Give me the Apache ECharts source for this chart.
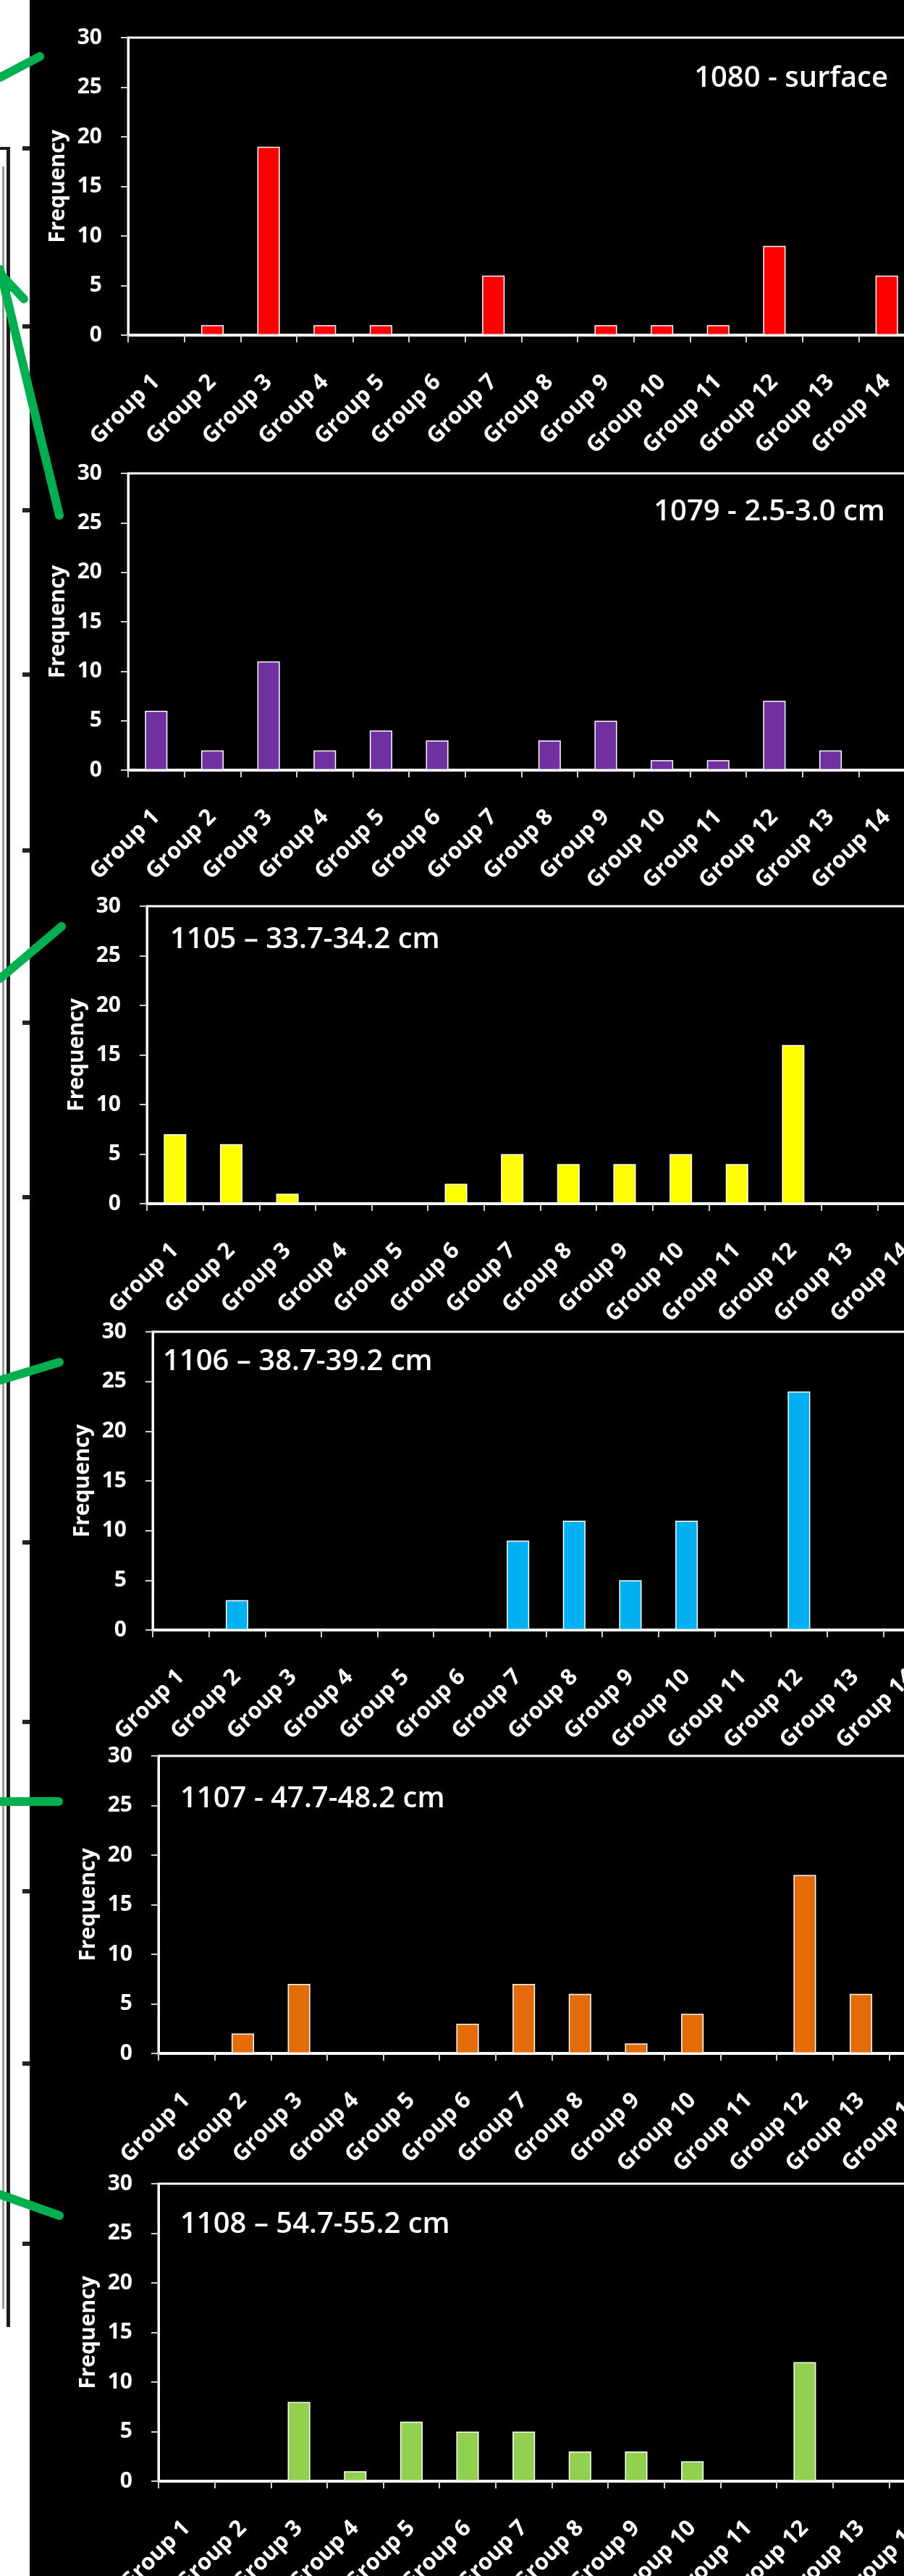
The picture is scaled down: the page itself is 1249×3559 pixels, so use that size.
<!DOCTYPE html>
<html><head><meta charset="utf-8">
<script src="https://cdn.jsdelivr.net/npm/echarts@6/dist/echarts.min.js"></script>
<style>html,body{margin:0;padding:0;background:#000}#c{width:1249px;height:3559px}</style>
</head><body><div id="c"></div>
<script>
// ---- data ----
const categories = ['Group 1','Group 2','Group 3','Group 4','Group 5','Group 6','Group 7','Group 8','Group 9','Group 10','Group 11','Group 12','Group 13','Group 14'];
const yTickLabels = [0, 5, 10, 15, 20, 25, 30];
const sampleLabels = ['1080 - surface','1079 - 2.5-3.0 cm','1105 – 33.7-34.2 cm','1106 – 38.7-39.2 cm','1107 - 47.7-48.2 cm','1108 – 54.7-55.2 cm'];
const freq1080 = [0,1,19,1,1,0,6,0,1,1,1,9,0,6];
const freq1079 = [6,2,11,2,4,3,0,3,5,1,1,7,2,0];
const freq1105 = [7,6,1,0,0,2,5,4,4,5,4,16,0,0];
const freq1106 = [0,3,0,0,0,0,9,11,5,11,0,24,0,0];
const freq1107 = [0,2,7,0,0,3,7,6,1,4,0,18,6,0];
const freq1108 = [0,0,8,1,6,5,5,3,3,2,0,12,0,0];
const seriesValues = [freq1080, freq1079, freq1105, freq1106, freq1107, freq1108];

// ---- layout & style ----
const layout = [
  {color:'#FF0000', left:177, top:52,   bottom:463,  title:{right:22, top:89}},
  {color:'#7030A0', left:177, top:654,  bottom:1064, title:{right:26, top:688}},
  {color:'#FFFF00', left:203, top:1252, bottom:1663, title:{left:235, top:1279}},
  {color:'#00B0F0', left:211, top:1840, bottom:2252, title:{left:225, top:1862}},
  {color:'#E36C09', left:219, top:2426, bottom:2837, title:{left:249, top:2466}},
  {color:'#92D050', left:219, top:3017, bottom:3428, title:{left:249, top:3054}}
];
const plotWidth = 1087;
const FONT = '"Open Sans", "DejaVu Sans", sans-serif';

const chart = echarts.init(document.getElementById('c'), null, {renderer:'canvas'});

const grids = [], xAxes = [], yAxes = [], series = [], titles = [];
layout.forEach((p, i) => {
  grids.push({left:p.left, top:p.top, width:plotWidth, height:p.bottom - p.top,
    show:true, borderColor:'#ffffff', borderWidth:3, backgroundColor:'transparent',
    containLabel:false, outerBoundsMode:'none'});
  xAxes.push({type:'category', gridIndex:i, data:categories, boundaryGap:true,
    axisLine:{show:true, lineStyle:{color:'#ffffff', width:4}},
    axisTick:{show:true, length:10, inside:false, alignWithLabel:false, lineStyle:{color:'#d0d0d0', width:2}},
    axisLabel:{interval:0, rotate:45, margin:60, color:'#ffffff', fontSize:31, fontWeight:'bold', fontFamily:FONT, hideOverlap:false},
    splitLine:{show:false}});
  yAxes.push({type:'value', gridIndex:i, min:yTickLabels[0], max:yTickLabels[yTickLabels.length-1],
    interval:yTickLabels[1]-yTickLabels[0],
    name:'Frequency', nameLocation:'middle', nameGap:80,
    nameTextStyle:{color:'#ffffff', fontSize:30, fontWeight:'bold', fontFamily:FONT},
    axisLine:{show:true, lineStyle:{color:'#ffffff', width:3}},
    axisTick:{show:true, length:10, lineStyle:{color:'#d0d0d0', width:2}},
    axisLabel:{margin:36, color:'#ffffff', fontSize:30, fontWeight:'bold', fontFamily:FONT},
    splitLine:{show:false}});
  series.push({type:'bar', xAxisIndex:i, yAxisIndex:i, data:seriesValues[i], barWidth:'40%',
    itemStyle:{color:p.color, borderColor:'#ffffff', borderWidth:1.5}, silent:true, animation:false});
  titles.push(Object.assign({text:sampleLabels[i], padding:0,
    textStyle:{color:'#ffffff', fontSize:40, fontWeight:600, fontFamily:FONT}}, p.title));
});

// decorative left strip (core log sketch and connector lines)
const tickYs = [205,451,705,932,1175,1413,1654,2131,2379,2613,2851,3100];
const graphics = [
  {type:'rect', shape:{x:0, y:0, width:41, height:3559}, style:{fill:'#ffffff'}, z:0},
  {type:'rect', shape:{x:9, y:205, width:5, height:3010}, style:{fill:'#1a1a1a'}, z:1},
  {type:'rect', shape:{x:3, y:230, width:3, height:2960}, style:{fill:'#9a9a9a'}, z:1},
  {type:'rect', shape:{x:0, y:203, width:14, height:4}, style:{fill:'#1a1a1a'}, z:1}
];
tickYs.forEach(y => graphics.push({type:'rect', shape:{x:31, y:y-3, width:10, height:6}, style:{fill:'#222'}, z:1}));
const conn = [
  [0,107,55,78],[0,378,33,413],[0,372,82,712],[0,1352,85,1280],[0,1907,82,1882],[0,2489,81,2489],[0,3032,82,3061]
];
conn.forEach(c => graphics.push({type:'line', shape:{x1:c[0], y1:c[1], x2:c[2], y2:c[3]},
  style:{stroke:'#00B050', lineWidth:12, lineCap:'round'}, z:2}));

chart.setOption({
  backgroundColor:'#000000',
  animation:false,
  title:titles,
  grid:grids, xAxis:xAxes, yAxis:yAxes, series:series,
  graphic:graphics
});
</script></body></html>
